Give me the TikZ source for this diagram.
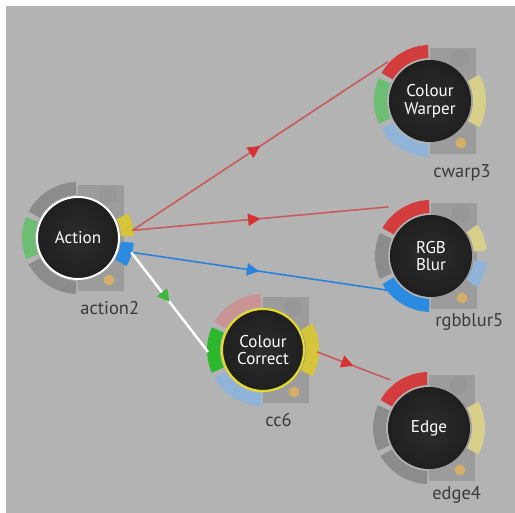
\documentclass[tikz,border=0pt]{standalone}
\usepackage{fontspec}
\setmainfont{PT Sans}
\usetikzlibrary{calc,arrows.meta,decorations.markings}

\definecolor{bggray}{HTML}{B3B3B3}
\definecolor{panelgray}{HTML}{9C9C9C}
\definecolor{knobgray}{HTML}{979797}
\definecolor{dotyel}{HTML}{D4AE68}
\definecolor{ringgray}{HTML}{8C8C8C}
\definecolor{ringgreen}{HTML}{6DBE72}
\definecolor{ccgreen}{HTML}{2CB72C}
\definecolor{ringred}{HTML}{D23C3C}
\definecolor{ringblue}{HTML}{2A8BE0}
\definecolor{ltblue}{HTML}{8FB4D8}
\definecolor{ringyel}{HTML}{D6C43A}
\definecolor{fadeyel}{HTML}{D8CF8A}
\definecolor{fadepink}{HTML}{C99494}
\definecolor{ccrim}{HTML}{E6DC28}
\definecolor{bulbdark}{HTML}{2D2D2D}
\definecolor{bulbedge}{HTML}{1F1F1F}
\definecolor{tagtext}{HTML}{3A3A3A}
\definecolor{wirered}{HTML}{C85A5A}
\definecolor{arrowred}{HTML}{D73232}
\definecolor{wireblue}{HTML}{2882DC}
\definecolor{arrowgreen}{HTML}{3CB83C}

% one coloured piece of the ring round a node
\newcommand{\ringseg}[4]{%
  \fill[#4] ($(#1)+(#2:1.12)$) arc[start angle=#2, end angle=#3, radius=1.12]
    -- ($(#1)+(#3:0.86)$) arc[start angle=#3, end angle=#2, radius=0.86] -- cycle;}
% grey panel at the right of a node
\newcommand{\sidepanel}[1]{%
  \fill[panelgray] (#1) +(0,-1.06) rectangle +(0.92,1.06);
  \fill[knobgray] ($(#1)+(0.6,0.86)$) circle (0.18);
  \fill[dotyel] ($(#1)+(0.62,-0.84)$) circle (0.11);}

\tikzset{
  bulb/.style={circle, minimum size=1.64cm, inner sep=0pt, inner color=bulbdark, outer color=bulbedge,
    text=white, align=center, font=\fontsize{9.7}{10}\selectfont},
  nodetag/.style={anchor=base west, inner sep=0pt, text=tagtext, font=\fontsize{10.5}{12}\selectfont},
  wire/.style 2 args={draw=#1, line width=0.9pt, postaction={decorate},
    decoration={markings, mark=at position 0.5 with {\arrow{Triangle[length=7pt,width=7pt,color=#2]}}}},
}

\begin{document}
\begin{tikzpicture}
  \useasboundingbox (0,0) rectangle (10.3,10.26);
  \fill[white] (0,0) rectangle (10.3,10.26);
  \fill[bggray] (0.12,0) rectangle (10.3,10.14);

  \coordinate (act) at (1.56,5.50);
  \coordinate (cw) at (8.60,8.24);
  \coordinate (rgb) at (8.62,5.14);
  \coordinate (cc) at (5.26,3.26);
  \coordinate (edg) at (8.58,1.70);

  % panels
  \sidepanel{act}
  \sidepanel{cw}
  \sidepanel{rgb}
  \sidepanel{cc}
  \sidepanel{edg}

  % rings
  \ringseg{act}{92}{152}{ringgray}
  \ringseg{act}{158}{202}{ringgreen}
  \ringseg{act}{208}{268}{ringgray}
  \ringseg{act}{2}{26}{ringyel}
  \ringseg{act}{-5}{-30}{ringblue}

  \ringseg{cw}{92}{150}{ringred}
  \ringseg{cw}{156}{204}{ringgreen}
  \ringseg{cw}{210}{268}{ltblue}
  \ringseg{cw}{-28}{28}{fadeyel}

  \ringseg{rgb}{92}{150}{ringred}
  \ringseg{rgb}{156}{204}{ringgray}
  \ringseg{rgb}{210}{268}{ringblue}
  \ringseg{rgb}{6}{34}{fadeyel}
  \ringseg{rgb}{-6}{-34}{ltblue}

  \ringseg{cc}{92}{150}{fadepink}
  \ringseg{cc}{156}{204}{ccgreen}
  \ringseg{cc}{210}{268}{ltblue}
  \ringseg{cc}{-28}{28}{ringyel}

  \ringseg{edg}{92}{150}{ringred}
  \ringseg{edg}{156}{204}{ringgray}
  \ringseg{edg}{210}{268}{ringgray}
  \ringseg{edg}{-28}{28}{fadeyel}

  % ports
  \coordinate (act-o1) at ($(act)+(8:1.1)$);
  \coordinate (act-o2) at ($(act)+(-15:1.1)$);
  \coordinate (cw-i) at ($(cw)+(137:1.15)$);
  \coordinate (rgb-i1) at ($(rgb)+(131:1.3)$);
  \coordinate (rgb-i2) at ($(rgb)+(218:1.11)$);
  \coordinate (cc-i) at ($(cc)+(182:1.1)$);
  \coordinate (cc-o) at ($(cc)+(-2:1.08)$);
  \coordinate (edg-i) at ($(edg)+(129:1.24)$);

  % wires
  \draw[wire={wirered}{arrowred}] (act-o1) -- (cw-i);
  \draw[wire={wirered}{arrowred}] (act-o1) -- (rgb-i1);
  \draw[wire={wireblue}{wireblue}] (act-o2) -- (rgb-i2);
  \draw[wire={white}{arrowgreen}, line width=1.4pt] (act-o2) -- (cc-i);
  \draw[wire={wirered}{arrowred}] (cc-o) -- (edg-i);

  % nodes
  \node[bulb, draw=white, line width=1.1pt] (action) at (act) {Action};
  \node[bulb] (warper) at (cw) {Colour\\Warper};
  \node[bulb] (rgbblur) at (rgb) {RGB\\Blur};
  \node[bulb, draw=ccrim, line width=1.2pt] (correct) at (cc) {Colour\\Correct};
  \node[bulb] (edge) at (edg) {Edge};

  \node[nodetag] (action2) at ($(act)+(0.04,-1.54)$) {action2};
  \node[nodetag] (cwarp3) at ($(cw)+(0.06,-1.54)$) {cwarp3};
  \node[nodetag] (rgbblur5) at ($(rgb)+(0.08,-1.42)$) {rgbblur5};
  \node[nodetag] (cc6) at ($(cc)+(0.04,-1.54)$) {cc6};
  \node[nodetag] (edge4) at ($(edg)+(0.06,-1.44)$) {edge4};
\end{tikzpicture}
\end{document}
